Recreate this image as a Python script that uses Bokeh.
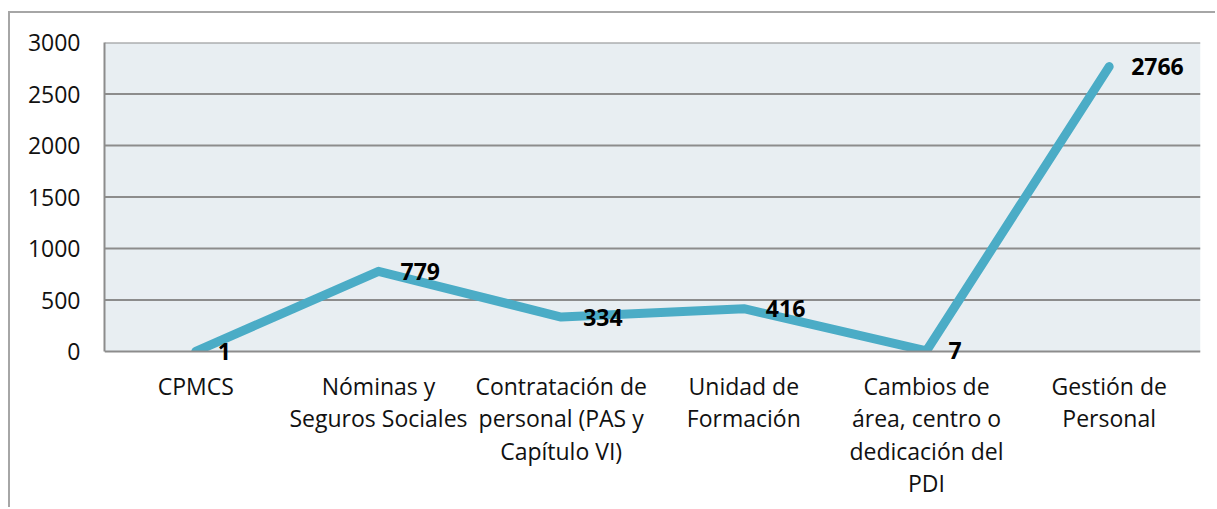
from bokeh.plotting import figure
from bokeh.models import FactorRange, Range1d, ColumnDataSource, FixedTicker, LabelSet
from bokeh.core.properties import value
from bokeh.embed import file_html
from bokeh.resources import INLINE

categories = [
    "CPMCS",
    "Nóminas y\nSeguros Sociales",
    "Contratación de\npersonal (PAS y\nCapítulo VI)",
    "Unidad de\nFormación",
    "Cambios de\nárea, centro o\ndedicación del\nPDI",
    "Gestión de\nPersonal",
]
values = [1, 779, 334, 416, 7, 2766]
labels = [str(v) for v in values]
y_ticks = [0, 500, 1000, 1500, 2000, 2500, 3000]
y_min, y_max = 0, 3000

FONT = "Open Sans"
GRID = "#8C8C8C"

src = ColumnDataSource(dict(x=categories, y=values, t=labels))

# a little room below zero so the data labels at the baseline are not cut
px_per_unit = 309.0 / (y_max - y_min)
pad = 12 / px_per_unit

p = figure(
    x_range=FactorRange(factors=categories, range_padding=0),
    y_range=Range1d(y_min - pad, y_max),
    width=1207, height=496,
    output_backend="svg", toolbar_location=None,
    min_border_left=94, min_border_top=29, min_border_right=17, min_border_bottom=146,
)
p.styles = {"border-left": "2px solid #A6A6A6", "border-top": "2px solid #A6A6A6",
            "margin-top": "11px", "margin-left": "8px"}

p.background_fill_color = "white"
p.border_fill_color = "white"
p.outline_line_color = None
p.grid.visible = False

n = len(categories)
upper_ticks = y_ticks[1:]

# plot area background and grid lines (under the series line)
p.quad(left=[0], right=[n], bottom=[y_min], top=[y_max],
       fill_color="#E8EEF2", line_color=None)
p.segment(x0=[0] * len(upper_ticks), x1=[n] * len(upper_ticks), y0=upper_ticks, y1=upper_ticks,
          line_color=GRID, line_width=2)

p.line("x", "y", source=src, line_color="#4BACC6", line_width=9,
       line_cap="round", line_join="round")

# clip the line at the baseline, then draw the baseline (category axis line)
p.quad(left=[0], right=[n], bottom=[y_min - pad], top=[y_min],
       fill_color="white", line_color=None)
p.segment(x0=[0], x1=[n], y0=[y_ticks[0]], y1=[y_ticks[0]],
          line_color=GRID, line_width=2)

p.yaxis.ticker = FixedTicker(ticks=y_ticks)
p.yaxis.bounds = (y_min, y_max)
p.yaxis.axis_line_color = GRID
p.yaxis.axis_line_width = 2
p.yaxis.major_tick_line_color = None
p.yaxis.minor_tick_line_color = None
p.yaxis.major_tick_out = 0
p.yaxis.major_tick_in = 0
p.yaxis.major_label_standoff = 24
p.yaxis.major_label_text_font = FONT
p.yaxis.major_label_text_font_size = "23px"
p.yaxis.major_label_text_color = "#111111"

p.xaxis.axis_line_color = None
p.xaxis.major_tick_line_color = None
p.xaxis.minor_tick_line_color = None
p.xaxis.major_tick_out = 0
p.xaxis.major_tick_in = 0
p.xaxis.major_label_standoff = 6
p.xaxis.major_label_text_font = FONT
p.xaxis.major_label_text_font_size = "23px"
p.xaxis.major_label_text_color = "#111111"
p.xaxis.major_label_text_line_height = 1.02

lbl = LabelSet(x="x", y="y", text="t", source=src, x_offset=22,
               text_align="left", text_baseline="middle",
               text_font=value(FONT), text_font_style="bold",
               text_font_size="23px", text_color="#000000")
p.add_layout(lbl)

open("out.html", "w").write(file_html(p, INLINE))
